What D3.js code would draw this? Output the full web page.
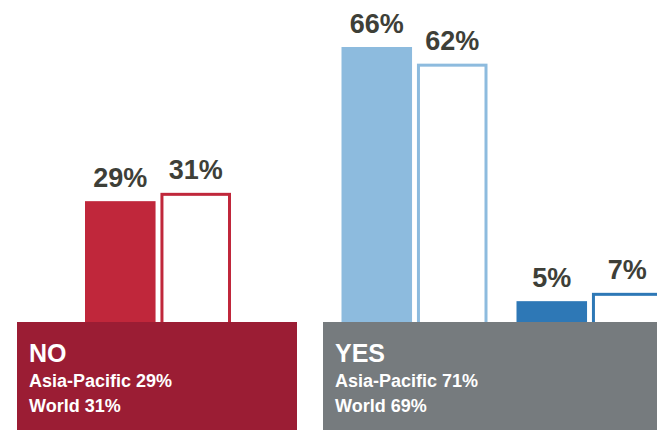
<!DOCTYPE html>
<html>
<head>
<meta charset="utf-8">
<script src="https://cdn.jsdelivr.net/npm/d3@7"></script>
<style>
  body { margin: 0; background: #fff; }
  svg { display: block; }
  text { font-family: "Liberation Sans", Arial, sans-serif; font-weight: bold; }
</style>
</head>
<body>
<div id="chart"></div>
<script>
// answers split in two boxes: NO and YES (yes has two sub answers)
let answers = ['No', 'Yes A', 'Yes B']
let answerBox = ['NO', 'YES', 'YES']
let asiaPacific = [29, 66, 5]
let world = [31, 62, 7]
let series = ['Asia-Pacific', 'World']

// totals shown in the boxes
let boxNames = ['NO', 'YES']
let boxAsiaPacific = [29, 71]
let boxWorld = [31, 69]

// colors
let barColors = ['#c0273b', '#8dbbde', '#2e78b6']
let boxColors = ['#9b1d34', '#767b7e']
let labelColor = '#3e3f38'

let width = 657, height = 430
let baseline = 322

let svg = d3.select('#chart').append('svg')
    .attr('width', width)
    .attr('height', height)

// box extents
let boxX = d3.scaleOrdinal().domain(boxNames).range([[17, 297], [323, 700]])
// groups inside each box
let groupScales = {
    NO: d3.scaleBand().domain(['No']).range([17, 299]),
    YES: d3.scaleBand().domain(['Yes A', 'Yes B']).range([327, 677])
}
let groupCenter = (i) => {
    let s = groupScales[answerBox[i]]
    return s(answers[i]) + s.bandwidth() / 2
}
let inner = d3.scaleBand().domain(series).range([-73, 73]).paddingInner(0.065)
let y = d3.scaleLinear().domain([0, 66]).range([baseline, 47])

let rows = answers.map((a, i) => ({ answer: a, i: i, ap: asiaPacific[i], world: world[i], color: barColors[i] }))

// Asia-Pacific: filled bars
svg.selectAll('.ap')
    .data(rows)
    .enter()
    .append('rect')
    .attr('class', 'ap')
    .attr('x', d => groupCenter(d.i) + inner('Asia-Pacific'))
    .attr('y', d => y(d.ap))
    .attr('width', inner.bandwidth())
    .attr('height', d => baseline - y(d.ap) + 2)
    .attr('fill', d => d.color)

// World: outlined bars
let sw = 3
svg.selectAll('.world')
    .data(rows)
    .enter()
    .append('rect')
    .attr('class', 'world')
    .attr('x', d => groupCenter(d.i) + inner('World') + sw / 2)
    .attr('y', d => y(d.world) + sw / 2)
    .attr('width', inner.bandwidth() - sw)
    .attr('height', d => baseline - y(d.world) + 2)
    .attr('fill', '#fff')
    .attr('stroke', d => d.color)
    .attr('stroke-width', sw)

// value labels
let labels = []
rows.forEach(d => {
    labels.push({ x: groupCenter(d.i) + inner('Asia-Pacific') + inner.bandwidth() / 2, v: d.ap })
    labels.push({ x: groupCenter(d.i) + inner('World') + inner.bandwidth() / 2, v: d.world })
})
svg.selectAll('.val')
    .data(labels)
    .enter()
    .append('text')
    .attr('class', 'val')
    .attr('x', d => d.x)
    .attr('y', d => y(d.v) - 14)
    .attr('text-anchor', 'middle')
    .style('font-size', '27px')
    .style('fill', labelColor)
    .text(d => d.v + '%')

// answer boxes
let boxes = svg.selectAll('.box')
    .data(boxNames)
    .enter()
    .append('g')
    .attr('class', 'box')

boxes.append('rect')
    .attr('x', d => boxX(d)[0])
    .attr('y', baseline)
    .attr('width', d => boxX(d)[1] - boxX(d)[0])
    .attr('height', height - baseline)
    .attr('fill', (d, i) => boxColors[i])

boxes.append('text')
    .attr('x', d => boxX(d)[0] + 12)
    .attr('y', 362)
    .style('font-size', '25px')
    .style('fill', '#fff')
    .text(d => d)

boxes.append('text')
    .attr('x', d => boxX(d)[0] + 12)
    .attr('y', 387)
    .style('font-size', '18px')
    .style('fill', '#fff')
    .text((d, i) => 'Asia-Pacific ' + boxAsiaPacific[i] + '%')

boxes.append('text')
    .attr('x', d => boxX(d)[0] + 12)
    .attr('y', 412)
    .style('font-size', '18px')
    .style('fill', '#fff')
    .text((d, i) => 'World ' + boxWorld[i] + '%')
</script>
</body>
</html>
